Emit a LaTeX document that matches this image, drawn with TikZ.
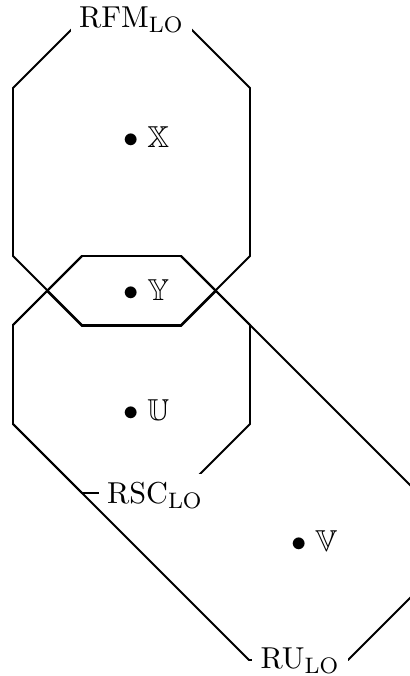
\documentclass[tikz,border=0pt]{standalone}
\usepackage{amssymb}
\tikzset{
  region/.style={draw=black, line width=0.7pt, line join=miter},
  reglabel/.style={fill=white, inner sep=3pt, font=\fontsize{10.8}{13}\selectfont},
  ptlabel/.style={anchor=west, inner sep=0pt, font=\fontsize{10.8}{13}\selectfont}
}
\begin{document}
\begin{tikzpicture}[x=0.357pt, y=-0.357pt]
\useasboundingbox (0,0) rectangle (410,676);
% RFM_LO region
\draw[region] (81,20) -- (13,88) -- (13,256) -- (82,325) -- (181,325) -- (250,256) -- (250,88) -- (182,20) -- cycle;
\node[reglabel] (rfm) at (131.5,20) {RFM$_{\mathrm{LO}}$};
% RSC_LO region
\draw[region] (82,256) -- (13,325) -- (13,424) -- (82,493) -- (181,493) -- (250,424) -- (250,325) -- (181,256) -- cycle;
\node[reglabel] (rsc) at (155,495) {RSC$_{\mathrm{LO}}$};
% hexagon
\draw[region] (82,256) -- (181,256) -- (216,291) -- (181,326) -- (82,326) -- (47,291) -- cycle;
% RU_LO region
\draw[region] (82,256) -- (181,256) -- (411,486) -- (411,597) -- (348,660) -- (249,660) -- (13,424) -- (13,325) -- cycle;
\node[reglabel] (ru) at (300,661) {RU$_{\mathrm{LO}}$};
% points
\node[ptlabel] (px) at (123,137) {$\bullet\;\mathbb{X}$};
\node[ptlabel] (py) at (123,290) {$\bullet\;\mathbb{Y}$};
\node[ptlabel] (pu) at (123,410) {$\bullet\;\mathbb{U}$};
\node[ptlabel] (pv) at (291,541) {$\bullet\;\mathbb{V}$};
\end{tikzpicture}
\end{document}
